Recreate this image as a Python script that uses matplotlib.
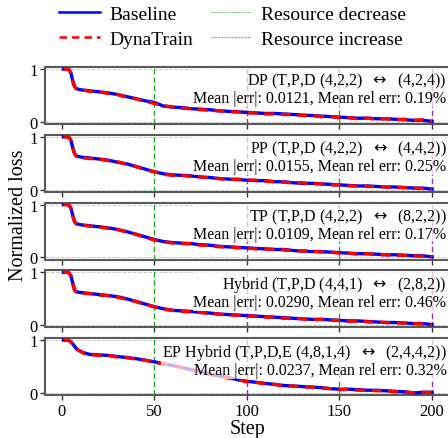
import matplotlib
matplotlib.use('Agg')
import matplotlib.pyplot as plt
from matplotlib.lines import Line2D

plt.rcParams['font.family'] = ['Liberation Serif', 'DejaVu Sans']
plt.rcParams['mathtext.fontset'] = 'dejavusans'

steps = [1, 3, 4, 5, 6, 7, 8, 10, 12] + list(range(15, 201, 5))

# DP
dp_base = [1.00, 1.00, 0.99, 0.93, 0.78, 0.67, 0.63, 0.61, 0.60,
           0.59, 0.57, 0.55, 0.52, 0.48, 0.44, 0.40, 0.37, 0.30, 0.28,
           0.27, 0.25, 0.24, 0.23, 0.21, 0.20, 0.19, 0.18, 0.17, 0.16,
           0.16, 0.15, 0.14, 0.13, 0.12, 0.11, 0.10, 0.09, 0.08, 0.07,
           0.07, 0.06, 0.06, 0.05, 0.04, 0.03, 0.03, 0.01]
dp_dyna = [1.00, 1.00, 0.99, 0.92, 0.77, 0.67, 0.62, 0.61, 0.60,
           0.58, 0.57, 0.54, 0.52, 0.47, 0.44, 0.39, 0.35, 0.31, 0.28,
           0.26, 0.25, 0.23, 0.22, 0.21, 0.19, 0.19, 0.17, 0.17, 0.15,
           0.15, 0.14, 0.14, 0.12, 0.12, 0.10, 0.10, 0.08, 0.08, 0.06,
           0.07, 0.05, 0.06, 0.04, 0.05, 0.03, 0.04, 0.01]

# PP
pp_base = [1.00, 1.00, 0.99, 0.94, 0.80, 0.68, 0.64, 0.62, 0.61,
           0.60, 0.58, 0.56, 0.52, 0.49, 0.44, 0.39, 0.34, 0.30, 0.28,
           0.27, 0.26, 0.24, 0.23, 0.21, 0.20, 0.19, 0.18, 0.17, 0.17,
           0.15, 0.15, 0.13, 0.12, 0.12, 0.11, 0.10, 0.09, 0.08, 0.07,
           0.07, 0.06, 0.05, 0.05, 0.04, 0.03, 0.03, 0.01]
pp_dyna = [1.00, 1.00, 0.99, 0.93, 0.79, 0.68, 0.63, 0.62, 0.60,
           0.59, 0.58, 0.55, 0.53, 0.48, 0.44, 0.38, 0.34, 0.29, 0.27,
           0.27, 0.25, 0.24, 0.22, 0.21, 0.19, 0.20, 0.18, 0.18, 0.16,
           0.15, 0.14, 0.13, 0.13, 0.11, 0.11, 0.09, 0.09, 0.07, 0.07,
           0.06, 0.06, 0.05, 0.04, 0.04, 0.03, 0.02, 0.01]

# TP
tp_base = [1.00, 1.00, 0.99, 0.94, 0.80, 0.68, 0.64, 0.62, 0.61,
           0.60, 0.58, 0.56, 0.53, 0.49, 0.44, 0.39, 0.34, 0.30, 0.28,
           0.27, 0.26, 0.24, 0.23, 0.21, 0.20, 0.19, 0.18, 0.17, 0.16,
           0.15, 0.15, 0.13, 0.12, 0.11, 0.11, 0.10, 0.09, 0.08, 0.07,
           0.07, 0.06, 0.05, 0.05, 0.04, 0.03, 0.03, 0.01]
tp_dyna = [1.00, 1.00, 0.99, 0.93, 0.79, 0.67, 0.63, 0.61, 0.61,
           0.59, 0.58, 0.55, 0.53, 0.48, 0.44, 0.38, 0.33, 0.30, 0.27,
           0.26, 0.26, 0.23, 0.23, 0.20, 0.20, 0.18, 0.18, 0.16, 0.16,
           0.15, 0.14, 0.13, 0.12, 0.12, 0.10, 0.10, 0.08, 0.08, 0.06,
           0.07, 0.05, 0.05, 0.04, 0.04, 0.03, 0.02, 0.01]

# Hybrid
hy_base = [1.00, 1.00, 0.99, 0.94, 0.80, 0.67, 0.63, 0.62, 0.61,
           0.60, 0.58, 0.56, 0.54, 0.50, 0.45, 0.40, 0.35, 0.31, 0.28,
           0.27, 0.26, 0.24, 0.23, 0.21, 0.20, 0.19, 0.18, 0.17, 0.16,
           0.15, 0.14, 0.13, 0.12, 0.11, 0.11, 0.10, 0.09, 0.08, 0.08,
           0.07, 0.06, 0.05, 0.05, 0.04, 0.03, 0.03, 0.01]
hy_dyna = [1.00, 1.00, 0.99, 0.93, 0.79, 0.66, 0.62, 0.61, 0.60,
           0.60, 0.57, 0.56, 0.53, 0.49, 0.45, 0.39, 0.35, 0.30, 0.28,
           0.26, 0.25, 0.24, 0.22, 0.21, 0.19, 0.19, 0.17, 0.17, 0.15,
           0.15, 0.13, 0.13, 0.12, 0.10, 0.11, 0.09, 0.09, 0.07, 0.08,
           0.06, 0.06, 0.05, 0.04, 0.04, 0.03, 0.02, 0.01]

# EP Hybrid
ep_base = [1.00, 1.00, 0.99, 0.97, 0.93, 0.88, 0.84, 0.79, 0.76,
           0.73, 0.72, 0.71, 0.69, 0.67, 0.65, 0.62, 0.59, 0.55, 0.52,
           0.48, 0.44, 0.40, 0.36, 0.32, 0.29, 0.25, 0.22, 0.20, 0.18,
           0.16, 0.14, 0.13, 0.12, 0.11, 0.10, 0.08, 0.07, 0.07, 0.06,
           0.05, 0.05, 0.04, 0.03, 0.02, 0.00, 0.01, 0.01]
ep_dyna = [1.00, 1.00, 0.99, 0.96, 0.92, 0.87, 0.83, 0.79, 0.75,
           0.73, 0.71, 0.71, 0.68, 0.67, 0.64, 0.62, 0.58, 0.55, 0.51,
           0.48, 0.43, 0.40, 0.35, 0.32, 0.28, 0.25, 0.21, 0.20, 0.17,
           0.16, 0.13, 0.13, 0.11, 0.11, 0.09, 0.08, 0.06, 0.07, 0.05,
           0.05, 0.04, 0.04, 0.02, 0.02, 0.00, 0.01, 0.01]

baselines = [dp_base, pp_base, tp_base, hy_base, ep_base]
dynas = [dp_dyna, pp_dyna, tp_dyna, hy_dyna, ep_dyna]
arrow = r'  $\leftrightarrow$  '
titles = ['DP (T,P,D (4,2,2)' + arrow + '(4,2,4))',
          'PP (T,P,D (4,2,2)' + arrow + '(4,4,2))',
          'TP (T,P,D (4,2,2)' + arrow + '(8,2,2))',
          'Hybrid (T,P,D (4,4,1)' + arrow + '(2,8,2))',
          'EP Hybrid (T,P,D,E (4,8,1,4)' + arrow + '(2,4,4,2))']
mean_err = ['0.0121', '0.0155', '0.0109', '0.0290', '0.0237']
rel_err = ['0.19%', '0.25%', '0.17%', '0.46%', '0.32%']
decrease_steps = [50, 150]
increase_steps = [100, 200]

W, H = 448, 439
fig = plt.figure(figsize=(W / 100, H / 100), dpi=100)

tops = [68, 135.75, 203.5, 271.25, 339]
ph = 57
axes = []
for i in range(5):
    ax = fig.add_axes([45 / W, 1 - (tops[i] + ph) / H, 405.5 / W, ph / H])
    axes.append(ax)
    ax.plot(steps, baselines[i], color='blue', lw=2.4, zorder=3)
    ax.plot(steps, dynas[i], color='red', lw=2.4, ls=(0, (3, 2)), zorder=4)
    for s in decrease_steps:
        ax.axvline(s, color='#22aa22', lw=1.0, ls=(0, (4, 2)), zorder=2)
    for s in increase_steps:
        ax.axvline(s, color='#993399', lw=1.0, ls=(0, (4, 2)), zorder=2)
    ax.set_xlim(-8.95, 209.95)
    ax.set_ylim(-0.04, 1.04)
    ax.set_yticks([0, 1])
    ax.set_xticks([0, 50, 100, 150, 200])
    ax.grid(axis='y', ls='--', color='0.8', lw=0.7)
    for sp in ax.spines.values():
        sp.set_color('0.35')
        sp.set_linewidth(1.5)
    ax.tick_params(labelsize=12, colors='0.2', labelcolor='black', length=3.5, width=1, pad=2)
    if i < 4:
        ax.tick_params(labelbottom=False)
    ax.text(0.99, 0.93, titles[i] + '\nMean |err|: ' + mean_err[i] + ', Mean rel err: ' + rel_err[i],
            transform=ax.transAxes, ha='right', va='top', multialignment='right',
            fontsize=11.5, linespacing=1.0, zorder=5,
            bbox=dict(facecolor='white', edgecolor='none', alpha=0.7, pad=0.5))

axes[-1].set_xlabel('Step', fontsize=14.5, labelpad=0)
fig.text(0.042, 0.51, 'Normalized loss', rotation=90, ha='center', va='center', fontsize=14.5)

handles = [Line2D([], [], color='blue', lw=1.8),
           Line2D([], [], color='red', lw=1.8, ls=(0, (3, 2))),
           Line2D([], [], color='green', lw=0.8, ls=(0, (2, 1)), alpha=0.5),
           Line2D([], [], color='purple', lw=0.8, ls=(0, (2, 1)), alpha=0.5)]
labels = ['Baseline', 'DynaTrain', 'Resource decrease', 'Resource increase']
fig.legend(handles, labels, loc='upper center', bbox_to_anchor=(0.519, 1.025), ncol=2,
           frameon=False, fontsize=14, columnspacing=0.9, labelspacing=0.35,
           handlelength=2.1, handletextpad=0.5)

fig.savefig('out.png', dpi=100)
